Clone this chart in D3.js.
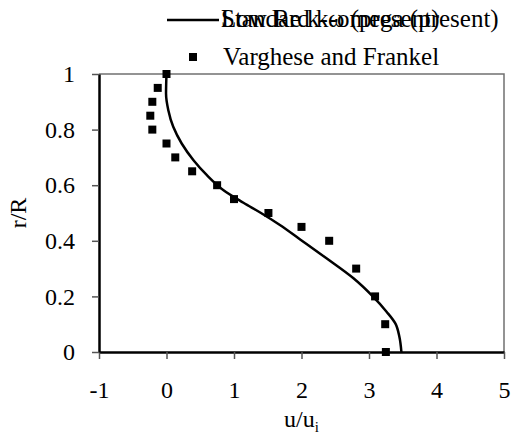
<!DOCTYPE html>
<html>
<head>
<meta charset="utf-8">
<script src="https://cdn.jsdelivr.net/npm/d3@7"></script>
<style>
  body { margin: 0; background: #fff; }
  svg { display: block; }
  text { font-family: "Liberation Serif", "Times New Roman", serif; fill: #000; }
</style>
</head>
<body>
<div id="chart"></div>
<script>
// series names (the two model names overlap in the legend, as in the source)
const modelNames = ['Standard k-omega (present)', 'Low Re k-ω (present)'];
const exptName = 'Varghese and Frankel';

// model profile u/ui vs r/R
const modelU = [3.48, 3.45, 3.39, 3.26, 3.06, 2.77, 2.37, 1.98, 1.68, 1.40, 1.14, 0.84, 0.595, 0.40, 0.225, 0.10, 0.027, -0.007, 0.0];
const modelR = [0, 0.055, 0.103, 0.145, 0.199, 0.265, 0.337, 0.405, 0.457, 0.50, 0.537, 0.583, 0.637, 0.69, 0.75, 0.81, 0.87, 0.93, 1.0];

// experiment (Varghese and Frankel)
const exptU = [3.25, 3.24, 3.09, 2.81, 2.41, 2.0, 1.51, 1.0, 0.75, 0.38, 0.13, 0.0, -0.21, -0.24, -0.21, -0.13, 0.0];
const exptR = [0, 0.1, 0.2, 0.3, 0.4, 0.45, 0.5, 0.55, 0.6, 0.65, 0.7, 0.75, 0.8, 0.85, 0.9, 0.95, 1.0];

const xTicks = [-1, 0, 1, 2, 3, 4, 5];
const yTicks = [0, 0.2, 0.4, 0.6, 0.8, 1];

const width = 515, height = 434;
const plotL = 99, plotR = 504, plotT = 74, plotB = 352;

const svg = d3.select('#chart')
  .append('svg')
  .attr('width', width)
  .attr('height', height);

const x = d3.scaleLinear().domain([-1, 5]).range([plotL, plotR]);
const y = d3.scaleLinear().domain([0, 1]).range([plotB, plotT]);

// plot border (top + right)
svg.append('path')
  .attr('d', `M${plotL},${plotT}H${plotR}V${plotB}`)
  .attr('fill', 'none')
  .attr('stroke', '#707070')
  .attr('stroke-width', 1.5);

// axes
const xAxis = svg.append('g')
  .attr('transform', `translate(0,${plotB})`)
  .call(d3.axisBottom(x).tickValues(xTicks).tickSize(7).tickSizeOuter(0).tickPadding(22).tickFormat(d => String(d)));
const yAxis = svg.append('g')
  .attr('transform', `translate(${plotL},0)`)
  .call(d3.axisLeft(y).tickValues(yTicks).tickSize(7).tickSizeOuter(0).tickPadding(17).tickFormat(d => d === 0 || d === 1 ? d : d3.format('.1f')(d)));

[xAxis, yAxis].forEach(g => {
  g.attr('font-family', null).attr('font-size', null);
  g.select('.domain').attr('stroke', '#000').attr('stroke-width', 2.5);
  g.selectAll('.tick line').attr('stroke', '#555').attr('stroke-width', 1.5);
  g.selectAll('.tick text')
    .attr('font-size', 24)
    .attr('fill', '#000');
});

// axis titles
const xTitle = svg.append('text')
  .attr('x', (plotL + plotR) / 2)
  .attr('y', 427)
  .attr('text-anchor', 'middle')
  .attr('font-size', 24);
xTitle.append('tspan').text('u/u');
xTitle.append('tspan').attr('font-size', 15).attr('dy', 5).text('i');

svg.append('text')
  .attr('transform', `translate(26,${(plotT + plotB) / 2}) rotate(-90)`)
  .attr('text-anchor', 'middle')
  .attr('font-size', 24)
  .text('r/R');

// model curve
const modelPts = modelU.map((u, i) => [u, modelR[i]]);
svg.append('path')
  .datum(modelPts)
  .attr('fill', 'none')
  .attr('stroke', '#000')
  .attr('stroke-width', 2.5)
  .attr('d', d3.line().x(d => x(d[0])).y(d => y(d[1])).curve(d3.curveMonotoneY));

// experiment markers
const ms = 8;
svg.selectAll('rect.expt')
  .data(exptU.map((u, i) => [u, exptR[i]]))
  .join('rect')
  .attr('class', 'expt')
  .attr('x', d => x(d[0]) - ms / 2)
  .attr('y', d => y(d[1]) - ms / 2)
  .attr('width', ms)
  .attr('height', ms)
  .attr('fill', '#000');

// legend
const lg = svg.append('g');
lg.append('line')
  .attr('x1', 167).attr('x2', 219)
  .attr('y1', 20).attr('y2', 20)
  .attr('stroke', '#000').attr('stroke-width', 2.5);
modelNames.forEach(name => {
  lg.append('text')
    .attr('x', 221)
    .attr('y', 27)
    .attr('font-size', 25)
    .text(name);
});
lg.append('rect')
  .attr('x', 193 - ms / 2).attr('y', 57 - ms / 2)
  .attr('width', ms).attr('height', ms)
  .attr('fill', '#000');
lg.append('text')
  .attr('x', 223)
  .attr('y', 65)
  .attr('font-size', 25)
  .text(exptName);
</script>
</body>
</html>
